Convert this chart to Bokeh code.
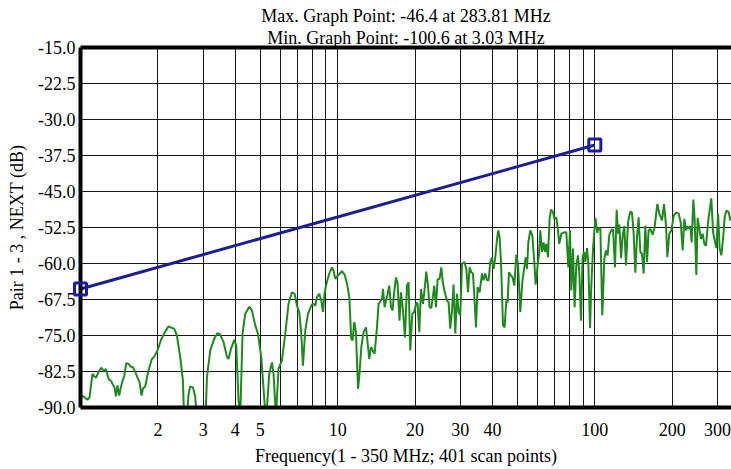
from bokeh.plotting import figure
from bokeh.models import (FixedTicker, Title, PrintfTickFormatter, CustomJSTickFormatter,
                          Range1d, LinearAxis)
from bokeh.embed import file_html
from bokeh.resources import INLINE

# ---- data ----
title_max = "Max. Graph Point: -46.4 at 283.81 MHz"
title_min = "Min. Graph Point: -100.6 at 3.03 MHz"
x_label = "Frequency(1 - 350 MHz; 401 scan points)"
y_label = "Pair 1 - 3 , NEXT (dB)"

x_tick_values = [2, 3, 4, 5, 10, 20, 30, 40, 100, 200, 300]
x_grid_values = [2, 3, 4, 5, 6, 7, 8, 9, 10, 20, 30, 40, 50, 60, 70, 80, 90, 100, 200, 300]
y_tick_values = [-15.0, -22.5, -30.0, -37.5, -45.0, -52.5, -60.0, -67.5, -75.0, -82.5, -90.0]
y_grid_values = [-22.5, -30.0, -37.5, -45.0, -52.5, -60.0, -67.5, -75.0, -82.5]

limit_freq = [1.0, 100.0]
limit_db = [-65.3, -35.3]

freq_mhz = [
    1.0, 1.027, 1.065, 1.084, 1.113, 1.131, 1.151, 1.175, 1.204, 1.229,
    1.255, 1.270, 1.290, 1.313, 1.332, 1.356, 1.373, 1.393, 1.414, 1.436,
    1.457, 1.479, 1.506, 1.537, 1.570, 1.599, 1.632, 1.666, 1.696, 1.727,
    1.748, 1.785, 1.838, 1.895, 1.935, 1.993, 2.054, 2.130, 2.199, 2.267,
    2.314, 2.371, 2.442, 2.502, 2.531, 2.594, 2.630, 2.671, 2.736, 2.793,
    2.836, 2.935, 3.03, 3.055, 3.102, 3.196, 3.311, 3.411, 3.495, 3.600,
    3.711, 3.764, 3.846, 3.962, 4.033, 4.117, 4.180, 4.267, 4.371, 4.531,
    4.642, 4.781, 4.898, 5.045, 5.262, 5.420, 5.553, 5.633, 5.754, 5.890,
    6.073, 6.255, 6.442, 6.641, 6.798, 6.946, 7.090, 7.218, 7.328, 7.482,
    7.665, 7.895, 8.016, 8.184, 8.309, 8.481, 8.635, 8.767, 8.892, 9.005,
    9.276, 9.502, 9.639, 9.786, 10.03, 10.39, 10.64, 10.87, 11.10, 11.29,
    11.43, 11.60, 11.78, 12.00, 12.13, 12.36, 12.61, 12.89, 13.27, 13.48,
    13.67, 13.92, 14.22, 14.43, 14.87, 15.01, 15.22, 15.55, 15.87, 16.12,
    16.35, 16.56, 16.86, 17.10, 17.40, 17.63, 17.95, 18.27, 18.60, 18.87,
    19.16, 19.51, 19.86, 20.22, 20.46, 20.77, 21.09, 21.47, 21.72, 22.11,
    22.45, 22.77, 23.12, 23.48, 23.75, 24.12, 24.47, 24.91, 25.29, 25.59,
    25.98, 26.61, 27.00, 27.41, 27.84, 28.23, 28.67, 29.11, 29.53, 29.98,
    30.44, 31.08, 31.64, 32.13, 32.59, 33.08, 33.59, 33.99, 34.51, 35.01,
    35.64, 36.41, 36.93, 37.50, 38.08, 38.63, 39.22, 39.82, 40.40, 41.02,
    41.66, 42.14, 42.64, 43.17, 43.95, 44.58, 45.27, 45.80, 46.37, 47.21,
    47.89, 48.63, 49.51, 50.27, 51.32, 52.24, 53.19, 53.82, 54.49, 55.13,
    56.13, 57.15, 58.18, 58.86, 59.93, 60.68, 61.38, 62.32, 63.21, 64.01,
    64.76, 65.75, 66.70, 67.55, 68.77, 69.57, 70.83, 71.66, 72.76, 74.08,
    76.10, 77.46, 78.87, 80.09, 81.03, 82.27, 83.45, 84.72, 86.02, 87.04,
    88.37, 89.64, 90.78, 91.84, 93.24, 94.34, 95.79, 96.92, 98.40, 100.5,
    102.3, 103.5, 105.1, 106.9, 108.9, 110.5, 112.1, 113.9, 115.9, 117.7,
    119.8, 121.6, 123.1, 124.5, 126.5, 128.3, 130.2, 132.2, 134.6, 137.4,
    139.5, 141.5, 143.7, 145.9, 148.0, 150.3, 152.6, 154.8, 157.2, 159.6,
    161.9, 164.4, 167.8, 170.8, 175.0, 178.2, 182.6, 185.8, 189.2, 191.4,
    194.9, 198.4, 202.6, 206.9, 211.8, 215.7, 219.6, 222.9, 226.3, 229.0,
    231.6, 235.2, 237.9, 241.6, 244.4, 248.2, 251.1, 254.9, 258.8, 262.6,
    266.6, 270.7, 275.6, 283.81, 288.3, 292.4, 296.9, 301.5, 305.8, 310.5,
    315.2, 319.8, 324.7, 331.4, 336.5, 339.5,
]

next_db = [
    -87.5, -87.7, -88.4, -87.9, -83.0, -83.5, -83.8, -82.6, -81.7, -82.3,
    -82.0, -83.0, -84.2, -84.4, -85.1, -85.8, -87.7, -85.4, -87.5, -85.8,
    -84.4, -83.5, -80.8, -80.9, -81.5, -81.6, -82.6, -83.8, -84.7, -87.5,
    -86.1, -85.6, -82.3, -79.9, -79.4, -78.1, -76.0, -74.3, -73.1, -73.4,
    -73.6, -75.0, -79.5, -84.4, -93.0, -92.0, -87.3, -85.6, -85.8, -87.7,
    -93.0, -97.0, -100.6, -94.0, -83.7, -78.1, -75.7, -74.5, -74.8, -76.4,
    -79.4, -79.9, -77.8, -75.9, -77.1, -88.5, -92.0, -74.6, -70.5, -69.0,
    -69.8, -72.9, -74.6, -79.5, -93.0, -83.0, -80.6, -83.0, -92.0, -81.9,
    -80.2, -74.6, -68.4, -66.0, -66.3, -68.8, -70.1, -74.6, -81.3, -74.0,
    -70.5, -68.8, -68.3, -68.8, -67.0, -66.3, -67.7, -70.1, -66.3, -64.6,
    -62.1, -60.8, -61.5, -63.2, -62.5, -61.6, -62.3, -64.2, -67.0, -75.7,
    -76.0, -72.2, -74.3, -86.1, -83.7, -77.4, -74.3, -73.3, -79.9, -77.4,
    -78.1, -78.8, -73.3, -68.4, -67.4, -65.3, -69.1, -67.0, -64.6, -69.1,
    -69.8, -66.3, -62.9, -64.2, -71.9, -66.0, -69.8, -75.4, -64.6, -63.9,
    -78.1, -70.5, -70.1, -68.1, -68.4, -74.3, -65.3, -68.4, -66.0, -61.7,
    -64.6, -69.1, -69.3, -66.7, -64.6, -69.1, -63.3, -63.2, -60.8, -63.5,
    -65.6, -67.7, -68.1, -73.6, -69.8, -64.4, -74.6, -66.3, -70.1, -70.8,
    -60.1, -59.7, -61.1, -66.0, -60.8, -61.8, -62.1, -66.7, -73.3, -64.9,
    -66.0, -62.1, -63.5, -62.1, -63.5, -63.5, -59.7, -58.7, -61.1, -58.7,
    -54.9, -53.1, -54.5, -59.7, -72.9, -73.3, -67.7, -68.1, -61.8, -62.5,
    -62.9, -64.6, -58.2, -60.1, -70.1, -63.9, -60.8, -58.7, -61.1, -55.6,
    -53.1, -54.2, -59.7, -64.4, -60.4, -58.0, -53.1, -57.6, -55.6, -57.6,
    -55.9, -58.7, -50.7, -48.8, -49.3, -50.7, -50.4, -52.4, -55.9, -53.8,
    -53.5, -53.5, -60.8, -53.1, -65.6, -56.9, -69.1, -60.4, -58.3, -62.1,
    -71.9, -58.7, -57.6, -59.7, -56.8, -59.7, -73.5, -64.6, -56.9, -50.5,
    -53.6, -52.6, -52.8, -70.8, -59.0, -57.3, -58.3, -54.0, -53.1, -52.8,
    -60.8, -48.8, -53.8, -51.9, -58.9, -54.2, -52.2, -60.4, -51.4, -49.2,
    -49.4, -53.5, -61.9, -54.5, -50.4, -57.6, -58.0, -62.1, -52.1, -59.7,
    -53.1, -52.8, -54.0, -52.4, -47.6, -49.6, -51.0, -47.6, -52.1, -58.7,
    -53.8, -53.1, -50.1, -49.4, -49.6, -51.4, -57.3, -50.7, -53.1, -52.2,
    -52.8, -52.2, -55.6, -46.7, -50.7, -62.4, -50.5, -52.8, -54.9, -53.8,
    -55.9, -56.3, -51.4, -46.4, -53.5, -55.2, -56.8, -49.6, -56.9, -58.3,
    -54.9, -50.4, -49.0, -49.3, -51.0, -50.6,
]

FONT = "Liberation Serif"
FS = "18px"
GREEN = "#1e8a1e"
BLUE = "#1c1c9e"

p = figure(
    width=731, height=469,
    x_axis_type="log",
    x_range=Range1d(1, 340),
    y_range=Range1d(-90.0001, -14.9999),
    output_backend="svg",
    toolbar_location=None,
    title=None,
    min_border_left=80, min_border_right=0,
    min_border_top=47, min_border_bottom=62,
)
p.background_fill_color = "white"
p.border_fill_color = "white"
p.outline_line_color = None

# grid
p.xgrid.ticker = FixedTicker(ticks=x_grid_values)
p.ygrid.ticker = FixedTicker(ticks=y_grid_values)
for g in (p.xgrid, p.ygrid):
    g.grid_line_color = "black"
    g.grid_line_width = 1
    g.grid_line_alpha = 0.9

# x axis (bottom) - thick axis line acts as the frame border
xa = p.xaxis[0]
xa.ticker = FixedTicker(ticks=x_tick_values)
xa.formatter = CustomJSTickFormatter(code="return String(Math.round(tick));")
xa.axis_line_color = "black"
xa.axis_line_width = 4
xa.major_tick_line_color = None
xa.minor_tick_line_color = None
xa.major_tick_out = 0
xa.major_tick_in = 0
xa.minor_tick_out = 0
xa.minor_tick_in = 0
xa.major_label_standoff = 15
xa.major_label_text_font = FONT
xa.major_label_text_font_size = FS
xa.major_label_text_color = "black"
xa.axis_label = x_label
xa.axis_label_text_font = FONT
xa.axis_label_text_font_size = FS
xa.axis_label_text_font_style = "normal"
xa.axis_label_text_color = "black"
xa.axis_label_standoff = 7

# y axis (left)
ya = p.yaxis[0]
ya.ticker = FixedTicker(ticks=y_tick_values)
ya.formatter = PrintfTickFormatter(format="%.1f")
ya.axis_line_color = "black"
ya.axis_line_width = 4
ya.major_tick_line_color = None
ya.minor_tick_line_color = None
ya.major_tick_out = 0
ya.major_tick_in = 0
ya.minor_tick_out = 0
ya.minor_tick_in = 0
ya.major_label_standoff = 5
ya.major_label_text_font = FONT
ya.major_label_text_font_size = FS
ya.major_label_text_color = "black"
ya.axis_label = y_label
ya.axis_label_text_font = FONT
ya.axis_label_text_font_size = FS
ya.axis_label_text_font_style = "normal"
ya.axis_label_text_color = "black"
ya.axis_label_standoff = 8

# top border: an empty axis whose line is the thick top edge
top_axis = LinearAxis(ticker=FixedTicker(ticks=[]), axis_line_color="black", axis_line_width=4,
                      major_tick_line_color=None, minor_tick_line_color=None,
                      major_tick_out=0, major_tick_in=0, minor_tick_out=0, minor_tick_in=0,
                      major_label_text_font_size="0px", major_label_standoff=0)
p.add_layout(top_axis, "above")

# titles (added after the axis, so they sit above it; Min nearer the frame)
for txt in (title_min, title_max):
    p.add_layout(Title(text=txt, align="center", text_font=FONT, text_font_size=FS,
                       text_font_style="normal", text_color="black", standoff=0), "above")

# data
p.line(freq_mhz, next_db, line_color=GREEN, line_width=2)
p.line(limit_freq, limit_db, line_color=BLUE, line_width=3)
p.scatter(limit_freq, limit_db, marker="square", size=12, fill_color=None,
          line_color=BLUE, line_width=3, level="overlay")

open("out.html", "w").write(file_html(p, INLINE))
